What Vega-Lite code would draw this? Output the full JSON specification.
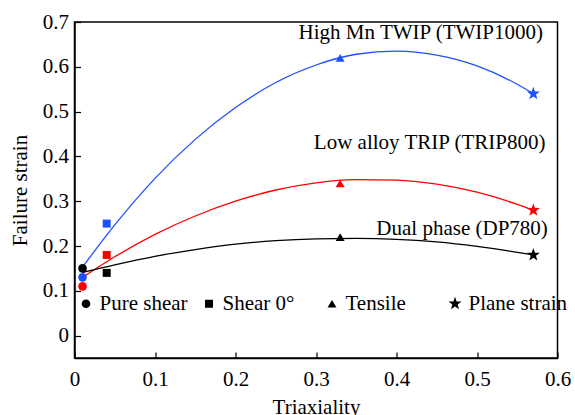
{
  "$schema": "https://vega.github.io/schema/vega-lite/v6.json",
  "width": 483,
  "height": 336,
  "autosize": {"type": "none"},
  "padding": {"left": 74.5, "top": 22, "right": 17.5, "bottom": 57},
  "config": {
    "font": "Times New Roman, Liberation Serif, serif",
    "view": {"stroke": "black", "strokeWidth": 1.5},
    "text": {"font": "Times New Roman, Liberation Serif, serif"},
    "legend": {"labelFont": "Times New Roman, Liberation Serif, serif"},
    "axis": {
      "domainColor": "black",
      "domainWidth": 1.5,
      "tickColor": "black",
      "tickWidth": 1.2,
      "tickSize": -6,
      "labelColor": "black",
      "labelFont": "Times New Roman, Liberation Serif, serif",
      "labelFontSize": 21,
      "labelFlush": false,
      "format": "~g",
      "titleColor": "black",
      "titleFont": "Times New Roman, Liberation Serif, serif",
      "titleFontSize": 21,
      "titleFontWeight": "normal",
      "grid": false
    }
  },
  "datasets": {
    "points": [
      {"material": "TWIP1000", "test": "Pure shear", "triaxiality": 0.01, "strain": 0.13},
      {"material": "TRIP800", "test": "Pure shear", "triaxiality": 0.01, "strain": 0.11},
      {"material": "DP780", "test": "Pure shear", "triaxiality": 0.01, "strain": 0.15},
      {"material": "TWIP1000", "test": "Shear 0°", "triaxiality": 0.04, "strain": 0.25},
      {"material": "TRIP800", "test": "Shear 0°", "triaxiality": 0.04, "strain": 0.18},
      {"material": "DP780", "test": "Shear 0°", "triaxiality": 0.04, "strain": 0.14},
      {"material": "TWIP1000", "test": "Tensile", "triaxiality": 0.33, "strain": 0.62},
      {"material": "TRIP800", "test": "Tensile", "triaxiality": 0.33, "strain": 0.34},
      {"material": "DP780", "test": "Tensile", "triaxiality": 0.33, "strain": 0.22},
      {"material": "TWIP1000", "test": "Plane strain", "triaxiality": 0.57, "strain": 0.54},
      {"material": "TRIP800", "test": "Plane strain", "triaxiality": 0.57, "strain": 0.28},
      {"material": "DP780", "test": "Plane strain", "triaxiality": 0.57, "strain": 0.18}
    ],
    "curves": [
      {"material": "TWIP1000", "triaxiality": 0.01, "strain": 0.153},
      {"material": "TWIP1000", "triaxiality": 0.05, "strain": 0.247},
      {"material": "TWIP1000", "triaxiality": 0.10, "strain": 0.351},
      {"material": "TWIP1000", "triaxiality": 0.15, "strain": 0.438},
      {"material": "TWIP1000", "triaxiality": 0.20, "strain": 0.509},
      {"material": "TWIP1000", "triaxiality": 0.25, "strain": 0.565},
      {"material": "TWIP1000", "triaxiality": 0.30, "strain": 0.604},
      {"material": "TWIP1000", "triaxiality": 0.35, "strain": 0.628},
      {"material": "TWIP1000", "triaxiality": 0.40, "strain": 0.635},
      {"material": "TWIP1000", "triaxiality": 0.45, "strain": 0.626},
      {"material": "TWIP1000", "triaxiality": 0.50, "strain": 0.602},
      {"material": "TWIP1000", "triaxiality": 0.55, "strain": 0.561},
      {"material": "TWIP1000", "triaxiality": 0.57, "strain": 0.540},
      {"material": "TRIP800", "triaxiality": 0.01, "strain": 0.130},
      {"material": "TRIP800", "triaxiality": 0.05, "strain": 0.176},
      {"material": "TRIP800", "triaxiality": 0.10, "strain": 0.226},
      {"material": "TRIP800", "triaxiality": 0.15, "strain": 0.267},
      {"material": "TRIP800", "triaxiality": 0.20, "strain": 0.300},
      {"material": "TRIP800", "triaxiality": 0.25, "strain": 0.325},
      {"material": "TRIP800", "triaxiality": 0.30, "strain": 0.341},
      {"material": "TRIP800", "triaxiality": 0.35, "strain": 0.348},
      {"material": "TRIP800", "triaxiality": 0.40, "strain": 0.347},
      {"material": "TRIP800", "triaxiality": 0.45, "strain": 0.338},
      {"material": "TRIP800", "triaxiality": 0.50, "strain": 0.320},
      {"material": "TRIP800", "triaxiality": 0.55, "strain": 0.293},
      {"material": "TRIP800", "triaxiality": 0.57, "strain": 0.280},
      {"material": "DP780", "triaxiality": 0.01, "strain": 0.141},
      {"material": "DP780", "triaxiality": 0.05, "strain": 0.158},
      {"material": "DP780", "triaxiality": 0.10, "strain": 0.177},
      {"material": "DP780", "triaxiality": 0.15, "strain": 0.192},
      {"material": "DP780", "triaxiality": 0.20, "strain": 0.204},
      {"material": "DP780", "triaxiality": 0.25, "strain": 0.212},
      {"material": "DP780", "triaxiality": 0.30, "strain": 0.216},
      {"material": "DP780", "triaxiality": 0.35, "strain": 0.217},
      {"material": "DP780", "triaxiality": 0.40, "strain": 0.215},
      {"material": "DP780", "triaxiality": 0.45, "strain": 0.209},
      {"material": "DP780", "triaxiality": 0.50, "strain": 0.199},
      {"material": "DP780", "triaxiality": 0.55, "strain": 0.186},
      {"material": "DP780", "triaxiality": 0.57, "strain": 0.180}
    ],
    "labels": [
      {"material": "TWIP1000", "text": "High Mn TWIP (TWIP1000)", "triaxiality": 0.582, "strain": 0.676},
      {"material": "TRIP800", "text": "Low alloy TRIP (TRIP800)", "triaxiality": 0.585, "strain": 0.429},
      {"material": "DP780", "text": "Dual phase (DP780)", "triaxiality": 0.588, "strain": 0.2375}
    ]
  },
  "layer": [
    {
      "data": {"name": "curves"},
      "mark": {"type": "line", "interpolate": "monotone", "strokeWidth": 1.3},
      "encoding": {
        "x": {
          "field": "triaxiality", "type": "quantitative",
          "scale": {"domain": [0, 0.6], "nice": false},
          "axis": {"title": "Triaxiality", "values": [0, 0.1, 0.2, 0.3, 0.4, 0.5, 0.6], "labelPadding": 16, "titlePadding": 7}
        },
        "y": {
          "field": "strain", "type": "quantitative",
          "scale": {"domain": [-0.05, 0.7], "nice": false, "zero": false},
          "axis": {"title": "Failure strain", "values": [0, 0.1, 0.2, 0.3, 0.4, 0.5, 0.6, 0.7], "labelPadding": 12, "titlePadding": 12}
        },
        "color": {
          "field": "material", "type": "nominal",
          "scale": {"domain": ["TWIP1000", "TRIP800", "DP780"], "range": ["#1f50ff", "#ff0000", "#000000"]},
          "legend": null
        },
        "detail": {"field": "material"}
      }
    },
    {
      "data": {"name": "points"},
      "mark": {"type": "point", "filled": true, "opacity": 1, "strokeWidth": 0},
      "encoding": {
        "x": {"field": "triaxiality", "type": "quantitative"},
        "y": {"field": "strain", "type": "quantitative"},
        "color": {"field": "material", "type": "nominal", "legend": null},
        "shape": {
          "field": "test", "type": "nominal",
          "scale": {
            "domain": ["Pure shear", "Shear 0°", "Tensile", "Plane strain"],
            "range": ["circle", "square", "triangle-up", "M0,-1L0.235,-0.324L0.951,-0.309L0.38,0.124L0.588,0.809L0,0.4L-0.588,0.809L-0.38,0.124L-0.951,-0.309L-0.235,-0.324Z"]
          },
          "legend": {
            "title": null,
            "orient": "none",
            "legendX": 1,
            "legendY": 271,
            "direction": "horizontal",
            "columns": 4,
            "gridAlign": "all",
            "columnPadding": -7,
            "padding": 0,
            "labelFont": "Times New Roman, Liberation Serif, serif",
            "labelFontSize": 21,
            "labelColor": "black",
            "labelOffset": 3,
            "symbolFillColor": "black",
            "symbolStrokeColor": "black",
            "symbolStrokeWidth": 0,
            "symbolOpacity": 1
          }
        },
        "size": {
          "field": "test", "type": "nominal",
          "scale": {"type": "ordinal", "domain": ["Pure shear", "Shear 0°", "Tensile", "Plane strain"], "range": [75, 64, 80, 190]}
        }
      }
    },
    {
      "data": {"name": "labels"},
      "mark": {"type": "text", "align": "right", "baseline": "middle", "fontSize": 21, "color": "black"},
      "encoding": {
        "x": {"field": "triaxiality", "type": "quantitative"},
        "y": {"field": "strain", "type": "quantitative"},
        "text": {"field": "text"}
      }
    }
  ]
}
